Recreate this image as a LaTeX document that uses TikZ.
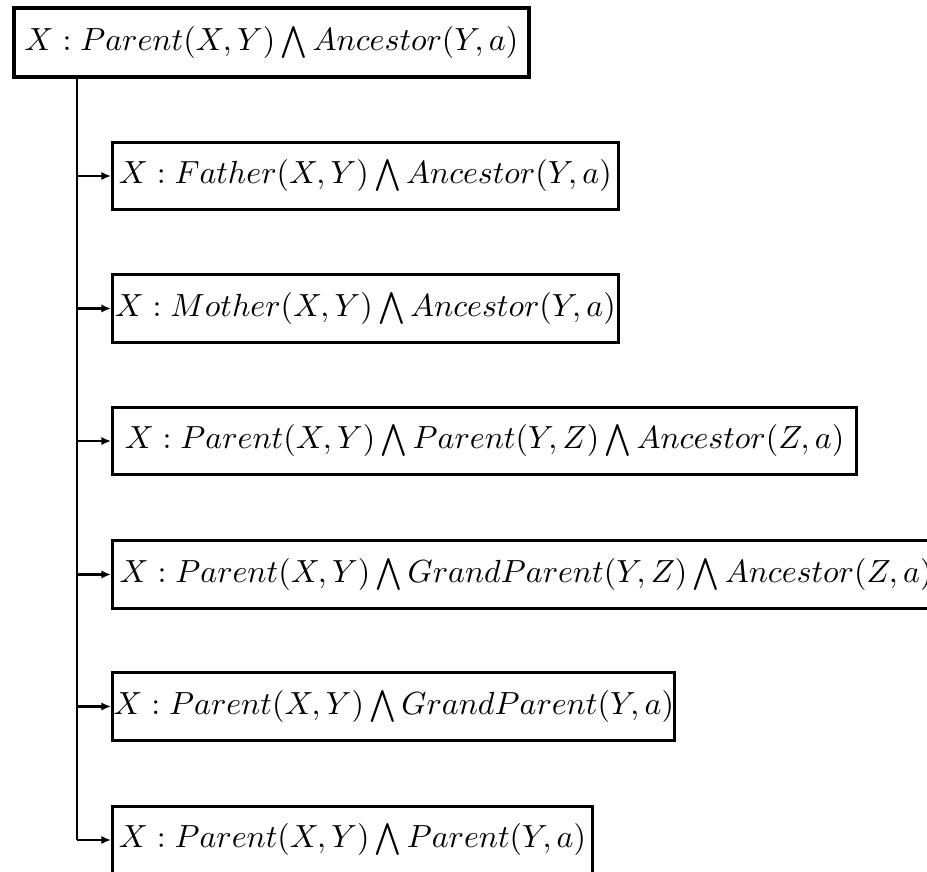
\documentclass[tikz,border=0pt]{standalone}
\usetikzlibrary{arrows.meta}
\begin{document}
\begin{tikzpicture}[x=0.3125pt,y=-0.3125pt,
  box/.style={draw,line width=0.95pt,minimum height=21pt,inner xsep=0.3pt,inner ysep=0pt,anchor=west,font=\fontsize{9.68}{12}\selectfont},
  link/.style={line width=0.8pt},
  arr/.style={link,-{Latex[length=3pt,width=2.6pt]}}]
\useasboundingbox (0,0) rectangle (927,872);
\node[box,line width=1.2pt,minimum width=161pt,minimum height=21.5pt] (top) at (12,42.5) {$X:Parent(X,Y)\bigwedge Ancestor(Y,a)$};
\node[box,minimum width=158pt] (b1) at (111,176) {$X:Father(X,Y)\bigwedge Ancestor(Y,a)$};
\node[box,minimum width=158pt] (b2) at (111,308.5) {$X:Mother(X,Y)\bigwedge Ancestor(Y,a)$};
\node[box,minimum width=232.5pt] (b3) at (111,441) {$X:Parent(X,Y)\bigwedge Parent(Y,Z)\bigwedge Ancestor(Z,a)$};
\node[box,minimum width=258.5pt] (b4) at (111,574.5) {$X:Parent(X,Y)\bigwedge GrandParent(Y,Z)\bigwedge Ancestor(Z,a)$};
\node[box,minimum width=174.7pt] (b5) at (111,706.5) {$X:Parent(X,Y)\bigwedge GrandParent(Y,a)$};
\node[box,minimum width=150pt] (b6) at (111,840) {$X:Parent(X,Y)\bigwedge Parent(Y,a)$};
\coordinate (trunk) at (77,0);
\draw[link] (trunk |- top.south) -- (trunk |- b6.west);
\foreach \n in {b1,b2,b3,b4,b5,b6}{\draw[arr] (trunk |- \n.west) -- (\n.west);}
\end{tikzpicture}
\end{document}
